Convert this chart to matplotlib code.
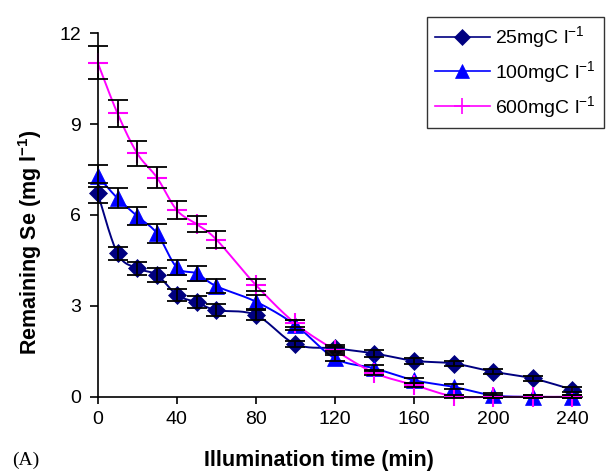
import numpy as np
import matplotlib
matplotlib.use("Agg")
import matplotlib.pyplot as plt

plt.rcParams['font.family'] = ['Liberation Sans', 'DejaVu Sans']
plt.rcParams['mathtext.default'] = 'regular'

# illumination time (min)
time = [0, 10, 20, 30, 40, 50, 60, 80, 100, 120, 140, 160, 180, 200, 220, 240]

# remaining Se (mg l-1)
se_25 = [6.71, 4.73, 4.24, 4.02, 3.36, 3.12, 2.86, 2.70, 1.74, 1.60, 1.43, 1.19, 1.10, 0.83, 0.61, 0.24]
se_100 = [7.28, 6.55, 5.96, 5.39, 4.27, 4.07, 3.65, 3.14, 2.37, 1.27, 0.94, 0.55, 0.33, 0.05, 0.0, 0.0]
se_600 = [11.02, 9.35, 8.03, 7.23, 6.16, 5.70, 5.19, 3.69, 2.42, 1.54, 0.79, 0.39, 0.02, 0.0, 0.0, 0.0]

err_25 = [0.33, 0.23, 0.22, 0.22, 0.20, 0.20, 0.20, 0.15, 0.10, 0.10, 0.10, 0.10, 0.08, 0.08, 0.08, 0.08]
err_100 = [0.36, 0.33, 0.30, 0.30, 0.25, 0.25, 0.23, 0.23, 0.15, 0.10, 0.10, 0.08, 0.08, 0.08, 0.05, 0.05]
err_600 = [0.55, 0.45, 0.42, 0.34, 0.29, 0.27, 0.27, 0.20, 0.12, 0.10, 0.08, 0.08, 0.05, 0.05, 0.05, 0.05]

labels = ['25mgC l$^{-1}$', '100mgC l$^{-1}$', '600mgC l$^{-1}$']


def smooth(x, y, n=30):
    # excel-like smoothed line (catmull-rom bezier through the points)
    x = np.asarray(x, float)
    y = np.asarray(y, float)
    px = np.concatenate([[x[0]], x, [x[-1]]])
    py = np.concatenate([[y[0]], y, [y[-1]]])
    xs, ys = [], []
    t = np.linspace(0, 1, n)
    for i in range(1, len(px) - 2):
        p0 = np.array([px[i], py[i]])
        p3 = np.array([px[i + 1], py[i + 1]])
        p1 = p0 + (np.array([px[i + 1], py[i + 1]]) - np.array([px[i - 1], py[i - 1]])) / 6
        p2 = p3 - (np.array([px[i + 2], py[i + 2]]) - np.array([px[i], py[i]])) / 6
        b = ((1 - t) ** 3)[:, None] * p0 + (3 * (1 - t) ** 2 * t)[:, None] * p1 \
            + (3 * (1 - t) * t ** 2)[:, None] * p2 + (t ** 3)[:, None] * p3
        xs.extend(b[:, 0])
        ys.extend(b[:, 1])
    return xs, ys


fig = plt.figure(figsize=(6.11, 4.73), dpi=100)
ax = fig.add_axes([0.160, 0.161, 0.7925, 0.769])

series = [
    (se_25, err_25, '#000080', 'D', 9, 1.4),
    (se_100, err_100, '#0000FF', '^', 12, 1.4),
    (se_600, err_600, '#FF00FF', '+', 14, 1.4),
]

handles = []
for (ys, es, col, mk, ms, lw), lab in zip(series, labels):
    sx, sy = smooth(time, ys)
    ax.plot(sx, sy, color=col, lw=lw, zorder=2, clip_on=False)
    ax.errorbar(time, ys, yerr=es, fmt='none', ecolor='black', elinewidth=1.3,
                capsize=7, capthick=1.3, zorder=4, clip_on=False)
    ax.plot(time, ys, linestyle='none', marker=mk, markersize=ms, color=col,
            markeredgewidth=1.5 if mk == '+' else 0.5, zorder=3, clip_on=False)
    h, = ax.plot([], [], color=col, lw=1.2, marker=mk, markersize=ms * 0.85,
                 markeredgewidth=1.2 if mk == '+' else 0.5)
    handles.append(h)

ax.set_xlim(0, 245)
ax.set_ylim(0, 12)
ax.set_xticks([0, 40, 80, 120, 160, 200, 240])
ax.set_yticks([0, 3, 6, 9, 12])
ax.spines['top'].set_visible(False)
ax.spines['right'].set_visible(False)
ax.spines['left'].set_linewidth(1.2)
ax.spines['bottom'].set_linewidth(1.2)
ax.tick_params(axis='x', direction='out', length=5, width=1.2, labelsize=14, pad=5)
ax.tick_params(axis='y', direction='out', length=6, width=1.2, labelsize=14, pad=6)

fig.text(319 / 611, 1 - 460 / 473, 'Illumination time (min)', ha='center', va='center',
         fontsize=15.5, fontweight='bold')
fig.text(30 / 611, 1 - 242 / 473, 'Remaining Se (mg l$^{-1}$)', ha='center', va='center',
         rotation=90, fontsize=15.5, fontweight='bold')
fig.text(12 / 611, 1 - 460 / 473, '(A)', ha='left', va='center', fontsize=14,
         family='Liberation Serif')

leg = fig.legend(handles, labels, loc='upper right', bbox_to_anchor=(1.004, 0.985),
                 fontsize=14, frameon=True, fancybox=False, edgecolor='black',
                 handlelength=2.8, labelspacing=0.45, borderpad=0.4, handletextpad=0.3)
leg.get_frame().set_linewidth(1.0)

fig.savefig('out.png', dpi=100)
